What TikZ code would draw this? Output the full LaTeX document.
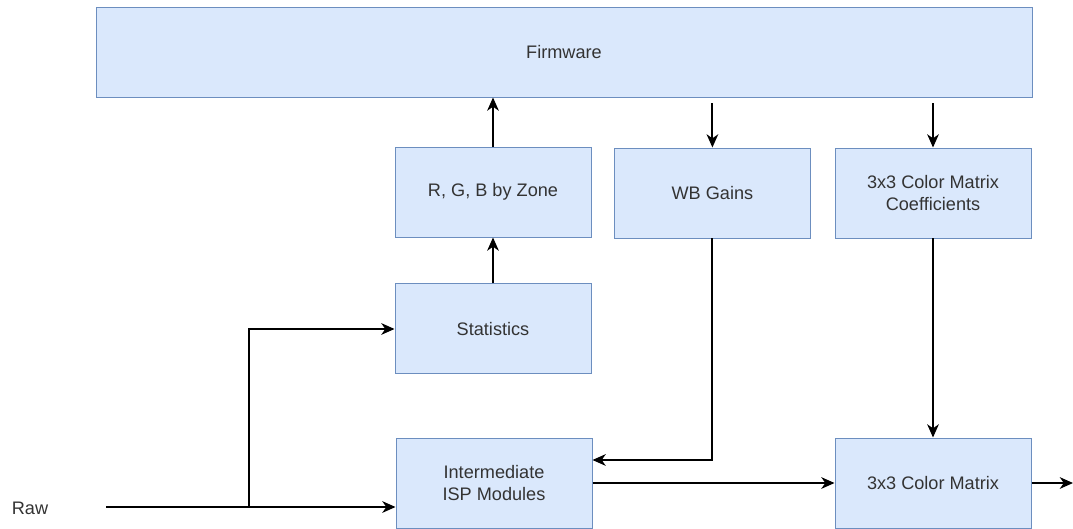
\documentclass[tikz,border=0pt]{standalone}
\usepackage{fontspec}
\setmainfont{Liberation Sans}
\usetikzlibrary{arrows.meta,positioning}
\definecolor{boxfill}{HTML}{DAE8FC}
\definecolor{boxline}{HTML}{6C8EBF}
\definecolor{txt}{HTML}{333333}

\begin{document}
\begin{tikzpicture}
\tikzstyle{block}=[rectangle, draw=boxline, fill=boxfill, line width=0.7pt,
text=txt, align=center, font=\fontsize{12.9}{15.5}\selectfont,
minimum width=4.9cm, minimum height=2.25cm, inner sep=2pt]
\tikzstyle{flow}=[line width=1.4pt, -{Stealth[length=3.3mm,width=2.9mm,inset=1mm]}]
\useasboundingbox (0,0) rectangle (26.825,-13.225);

\node[block, minimum width=23.4cm] at (14.1,-1.3) (fw) {Firmware};
\node[block] at (12.325,-4.8) (rgb) {R, G, B by Zone};
\node[block] at (17.81,-4.825) (wb) {WB Gains};
\node[block] at (23.325,-4.825) (coef) {3x3 Color Matrix\\Coefficients};
\node[block, below=1.15cm of rgb] (stats) {Statistics};
\node[block] at (12.35,-12.075) (isp) {Intermediate\\ISP Modules};
\node[block] at (23.325,-12.075) (cm) {3x3 Color Matrix};
\node[text=txt, font=\fontsize{12.9}{15.5}\selectfont] at (0.75,-12.7) (raw) {Raw};

\coordinate (rawin) at (2.65,-12.675);
\coordinate (split) at (6.225,-12.675);
\coordinate (out) at (26.825,-12.075);

\draw[flow] (rawin) -- (rawin -| isp.west);
\draw[flow] (split) |- (stats.west);
\draw[flow] (stats.north) -- (rgb.south);
\draw[flow] (rgb.north) -- (rgb.north |- fw.south);
\draw[flow, shorten <=0.15cm] (wb.north |- fw.south) -- (wb.north);
\draw[flow, shorten <=0.15cm] (coef.north |- fw.south) -- (coef.north);
\draw[flow] (wb.south) |- ([yshift=0.575cm]isp.east);
\draw[flow] (coef.south) -- (cm.north);
\draw[flow] (isp.east) -- (cm.west);
\draw[flow] (cm.east) -- (out);

\end{tikzpicture}
\end{document}
